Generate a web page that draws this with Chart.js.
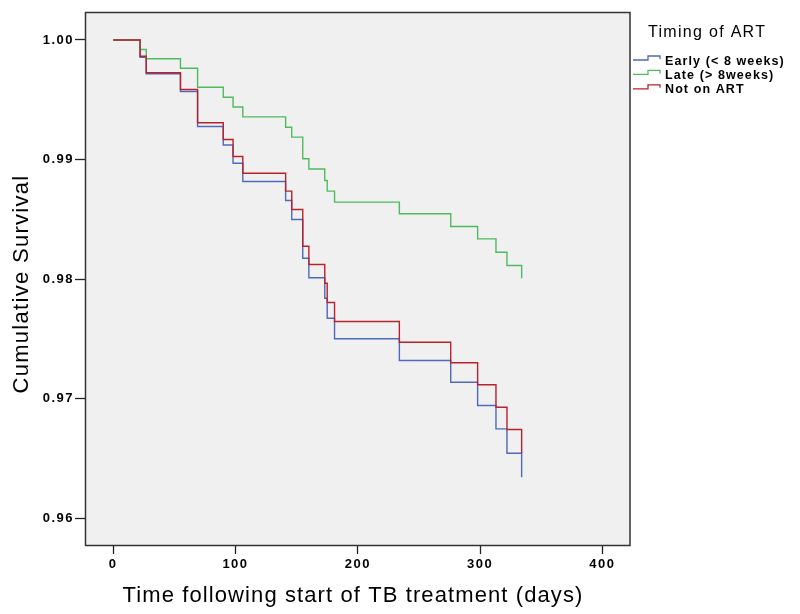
<!DOCTYPE html>
<html>
<head>
<meta charset="utf-8">
<script src="https://cdn.jsdelivr.net/npm/chart.js@4"></script>
<style>
  html, body { margin: 0; padding: 0; background: #ffffff; }
  #wrap { width: 800px; height: 614px; }
</style>
</head>
<body>
<div id="wrap"><canvas id="c" width="800" height="614"></canvas></div>
<script>
// ---- Data ----
const days = [0, 22, 27, 55, 69, 90, 98, 106, 141, 146, 155, 160, 173, 175, 181, 234, 276, 298, 313, 322, 334];
const earlySurv = [1.0, 0.99855, 0.99717, 0.99569, 0.99276, 0.99121, 0.98969, 0.98816, 0.98657, 0.98498, 0.98174, 0.98010, 0.97839, 0.97672, 0.97500, 0.97318, 0.97136, 0.96941, 0.96746, 0.96542, 0.96341];
const lateSurv  = [1.0, 0.99921, 0.99843, 0.99764, 0.99605, 0.99521, 0.99439, 0.99357, 0.99270, 0.99187, 0.99006, 0.98920, 0.98824, 0.98735, 0.98643, 0.98546, 0.98439, 0.98336, 0.98224, 0.98113, 0.98007];
const notOnSurv = [1.0, 0.99864, 0.99726, 0.99586, 0.99307, 0.99167, 0.99025, 0.98885, 0.98735, 0.98582, 0.98274, 0.98121, 0.97965, 0.97803, 0.97644, 0.97471, 0.97299, 0.97115, 0.96927, 0.96741, 0.96542];
const seriesLabels = ['Early (< 8 weeks)', 'Late (> 8weeks)', 'Not on ART'];
const xTicks = [0, 100, 200, 300, 400];
const yTicks = [0.96, 0.97, 0.98, 0.99, 1.00];
const legendTitle = 'Timing of ART';
const xTitle = 'Time following start of TB treatment (days)';
const yTitle = 'Cumulative Survival';

const colors = ['#4f69bb', '#4fbb5e', '#b8222d'];
const FONT = "'Liberation Sans', Arial, Helvetica, sans-serif";

function pts(ys) { return days.map((d, i) => ({ x: d, y: ys[i] })); }

const series = [earlySurv, lateSurv, notOnSurv];

const decorPlugin = {
  id: 'decor',
  beforeDraw(chart) {
    const { ctx, chartArea: a } = chart;
    ctx.save();
    ctx.fillStyle = '#ffffff';
    ctx.fillRect(0, 0, chart.width, chart.height);
    ctx.fillStyle = '#f0f0f0';
    ctx.fillRect(a.left, a.top, a.right - a.left, a.bottom - a.top);
    ctx.restore();
    ctx.letterSpacing = '1.5px';
  },
  afterDatasetsDraw(chart) {
    const { ctx, chartArea: a } = chart;
    ctx.save();
    ctx.strokeStyle = '#333333';
    ctx.lineWidth = 1.5;
    ctx.strokeRect(Math.round(a.left) - 0.5, Math.round(a.top) + 0.5, Math.round(a.right - a.left) + 0.5, Math.round(a.bottom - a.top));
    ctx.restore();
  },
  afterDraw(chart) {
    const { ctx } = chart;
    ctx.save();
    ctx.fillStyle = '#000000';
    // x title
    ctx.letterSpacing = '1.1px';
    ctx.font = '22px ' + FONT;
    ctx.textAlign = 'center';
    ctx.textBaseline = 'alphabetic';
    ctx.fillText(xTitle, 353, 602);
    // y title
    ctx.save();
    ctx.translate(28, 284);
    ctx.rotate(-Math.PI / 2);
    ctx.letterSpacing = '1.3px';
    ctx.fillText(yTitle, 0, 0);
    ctx.restore();
    // legend title
    ctx.letterSpacing = '1.3px';
    ctx.font = '16px ' + FONT;
    ctx.textAlign = 'left';
    ctx.fillText(legendTitle, 648, 37);
    // legend entries
    ctx.font = 'bold 12.5px ' + FONT;
    ctx.letterSpacing = '1.1px';
    chart.data.datasets.forEach((ds, i) => {
      const yb = 60 + i * 14.4;
      ctx.strokeStyle = ds.borderColor;
      ctx.lineWidth = 1.3;
      ctx.beginPath();
      ctx.moveTo(633, yb);
      ctx.lineTo(648, yb);
      ctx.lineTo(648, yb - 4);
      ctx.lineTo(660, yb - 4);
      ctx.lineTo(660, yb - 1);
      ctx.stroke();
      ctx.fillText(ds.label, 665, yb + 4.5);
    });
    ctx.restore();
    ctx.letterSpacing = '0px';
  }
};

new Chart(document.getElementById('c'), {
  type: 'line',
  data: {
    datasets: series.map((s, i) => ({
      label: seriesLabels[i],
      data: pts(s),
      borderColor: colors[i],
      backgroundColor: colors[i],
      borderWidth: 1.4,
      stepped: true,
      pointRadius: 0,
      fill: false,
      tension: 0,
      order: series.length - i
    }))
  },
  options: {
    responsive: false,
    animation: false,
    events: [],
    layout: { padding: { left: 0, right: 170, top: 12, bottom: 0 } },
    plugins: { legend: { display: false }, tooltip: { enabled: false } },
    scales: {
      x: {
        type: 'linear',
        min: -22.24,
        max: 422.6,
        afterBuildTicks: s => { s.ticks = xTicks.map(v => ({ value: v })); },
        afterFit: s => { s.height = 69; },
        border: { display: false },
        grid: { drawOnChartArea: false, drawTicks: true, tickLength: 9, tickColor: '#222222', tickWidth: 1.3 },
        ticks: {
          color: '#000000',
          padding: 3,
          maxRotation: 0,
          autoSkip: false,
          font: { family: FONT, size: 13, weight: 'bold' },
          callback: v => String(v)
        }
      },
      y: {
        type: 'linear',
        min: 0.957741,
        max: 1.002343,
        afterBuildTicks: s => { s.ticks = yTicks.map(v => ({ value: v })); },
        afterFit: s => { s.width = 86; },
        border: { display: false },
        grid: { drawOnChartArea: false, drawTicks: true, tickLength: 11, tickColor: '#222222', tickWidth: 1.3 },
        ticks: {
          color: '#000000',
          padding: 1,
          autoSkip: false,
          font: { family: FONT, size: 13, weight: 'bold' },
          callback: v => Number(v).toFixed(2)
        }
      }
    }
  },
  plugins: [decorPlugin]
});
</script>
</body>
</html>
